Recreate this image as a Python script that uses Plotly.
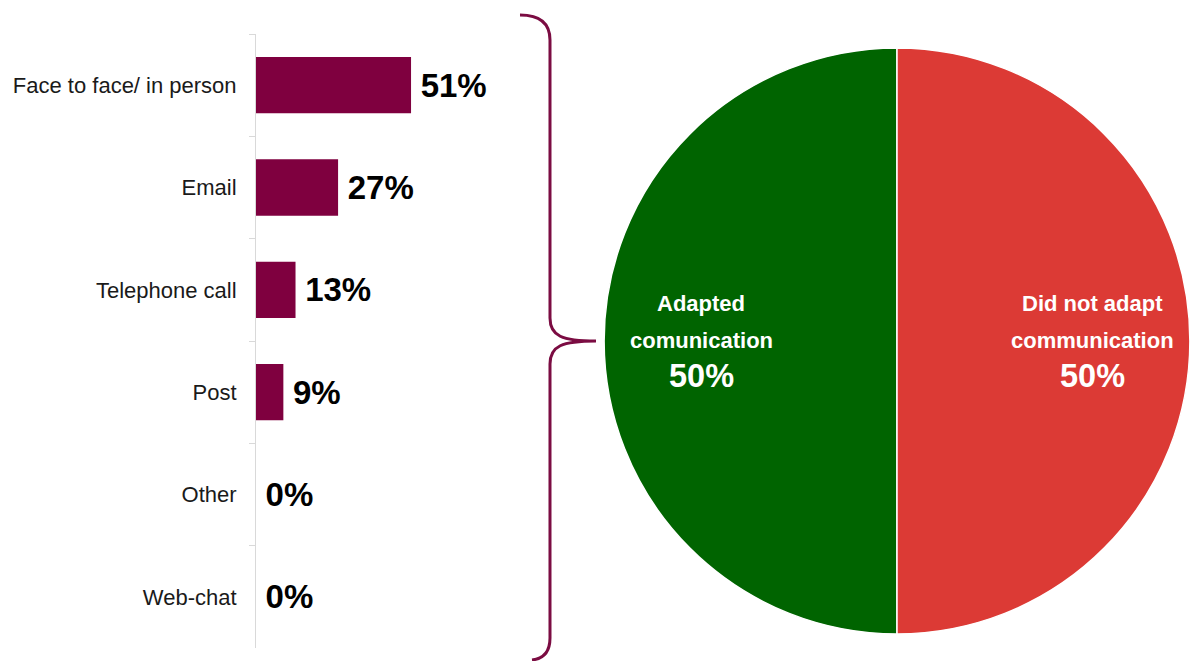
import plotly.graph_objects as go

# ---- data ----
channels = ["Face to face/ in person", "Email", "Telephone call", "Post", "Other", "Web-chat"]
channel_pct = [51, 27, 13, 9, 0, 0]

pie_names = ["Adapted<br>comunication", "Did not adapt<br>communication"]
pie_pct = [50, 50]

# ---- canvas / style constants ----
W, H = 1190, 661
FONT = "Liberation Sans, Arial, sans-serif"
MAROON = "#7F003F"
BRACE = "#7B0C42"
GREEN = "#006400"
RED = "#DC3A35"

def px(x):
    return x / W

def py(y):
    return 1 - y / H

# bar panel geometry
bar_x0, bar_x1 = 256, 535
bar_y0, bar_y1 = 34, 648
px_per_pct = 3.04

# pie geometry
pie_x0, pie_x1 = 604, 1190
pie_top, pie_bot = 47, 635

fig = go.Figure()

fig.add_trace(go.Bar(
    x=channel_pct,
    y=channels,
    orientation="h",
    marker=dict(color=MAROON, line=dict(width=0)),
    text=[f"\u2009{v}%" for v in channel_pct],
    textposition="outside",
    textfont=dict(family=FONT, size=33, color="#000000", weight="bold"),
    constraintext="none",
    cliponaxis=False,
    hoverinfo="skip",
    xaxis="x",
    yaxis="y",
))

# first slice sweeps from 6 o'clock through 9 o'clock, so it fills the left half
fig.add_trace(go.Pie(
    labels=[n.replace("<br>", " ") for n in pie_names],
    values=pie_pct,
    sort=False,
    direction="clockwise",
    rotation=180,
    marker=dict(colors=[GREEN, RED], line=dict(color="white", width=1.5)),
    textinfo="none",
    hoverinfo="skip",
    showlegend=False,
    domain=dict(x=[px(pie_x0), px(pie_x1)], y=[py(pie_bot), py(pie_top)]),
))

# slice labels (name lines plus percentage), centred in each half
cx = (pie_x0 + pie_x1) / 2
cy = (pie_top + pie_bot) / 2
r = (pie_bot - pie_top) / 2
annotations = []
for i, (name, pct) in enumerate(zip(pie_names, pie_pct)):
    side = -1 if i == 0 else 1
    lx = cx + side * 0.665 * r
    lines = name.split("<br>")
    for j, line in enumerate(lines):
        annotations.append(dict(
            x=px(lx), y=py(cy - 38 + 37 * j), xref="paper", yref="paper",
            text=line, showarrow=False, xanchor="center", yanchor="middle",
            font=dict(family=FONT, size=22, color="white", weight="bold"),
        ))
    annotations.append(dict(
        x=px(lx), y=py(cy + 35), xref="paper", yref="paper",
        text=f"{pct}%", showarrow=False, xanchor="center", yanchor="middle",
        font=dict(family=FONT, size=32.5, color="white", weight="bold"),
    ))

# curly brace linking the bar breakdown to the pie
brace_pts = [
    ("M", [(520, 15)]),
    ("Q", [(550, 15), (550, 40)]),
    ("L", [(550, 318)]),
    ("C", [(550, 336), (562, 341), (596, 341)]),
    ("C", [(562, 341), (550, 346), (550, 364)]),
    ("L", [(550, 638)]),
    ("Q", [(550, 658), (532, 660)]),
]
path = " ".join(
    cmd + " " + " ".join(f"{px(x):.5f},{py(y):.5f}" for x, y in pts)
    for cmd, pts in brace_pts
)

fig.update_layout(
    width=W, height=H,
    margin=dict(l=0, r=0, t=0, b=0),
    paper_bgcolor="white",
    plot_bgcolor="white",
    showlegend=False,
    bargap=0.45,
    font=dict(family=FONT),
    xaxis=dict(
        domain=[px(bar_x0), px(bar_x1)],
        range=[0, (bar_x1 - bar_x0) / px_per_pct],
        visible=False,
        fixedrange=True,
    ),
    yaxis=dict(
        domain=[py(bar_y1), py(bar_y0)],
        autorange="reversed",
        type="category",
        showline=True, linecolor="#d9d9d9", linewidth=1,
        ticks="outside", tickson="boundaries", ticklen=6, tickcolor="#d9d9d9",
        ticklabelstandoff=14,
        showgrid=False, zeroline=False,
        tickfont=dict(family=FONT, size=22, color="#1a1a1a"),
        fixedrange=True,
    ),
    annotations=annotations,
    shapes=[dict(
        type="path", path=path, xref="paper", yref="paper",
        line=dict(color=BRACE, width=3), fillcolor="rgba(0,0,0,0)",
    )],
)

fig.write_html("out.html")
